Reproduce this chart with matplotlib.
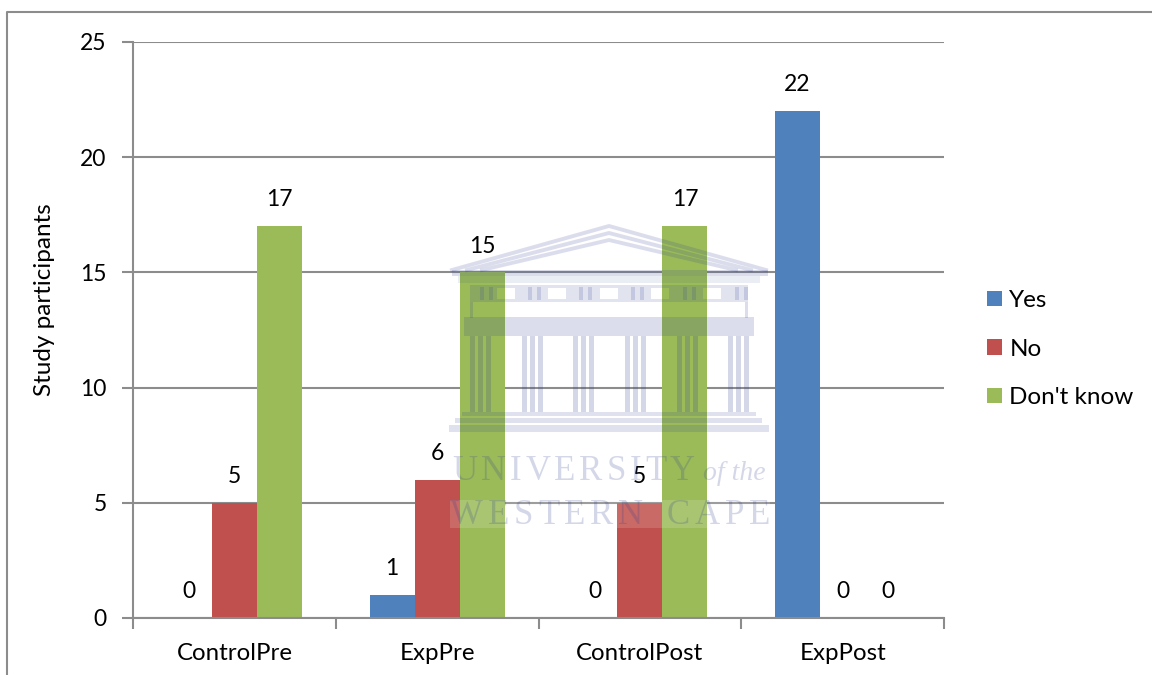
import numpy as np
from matplotlib import pyplot as plt
from matplotlib.patches import Rectangle

categories = ['ControlPre', 'ExpPre', 'ControlPost', 'ExpPost']
yes = [0, 1, 0, 22]
no = [5, 6, 5, 0]
dontKnow = [17, 15, 17, 0]
seriesNames = ['Yes', 'No', "Don't know"]
seriesColors = ['#4f81bd', '#c0504d', '#9bbb59']

plt.rcParams['font.family'] = ['Lato', 'DejaVu Sans']

W, H = 1152, 675
fig = plt.figure(figsize=(W / 100, H / 100), dpi=100)
ax = fig.add_axes([133 / W, 1 - 618 / H, (944 - 133) / W, (618 - 42) / H])

x = np.arange(len(categories))
barWidth = 0.222
for i, values in enumerate([yes, no, dontKnow]):
    offset = (i - 1) * barWidth
    ax.bar(x + offset, values, barWidth, color=seriesColors[i], label=seriesNames[i], zorder=2)
    for xi, v in zip(x, values):
        ax.annotate(str(v), (xi + offset, v), xytext=(0, 19), textcoords='offset points',
                    ha='center', va='center', fontsize=16.5, color='black', zorder=5)

ax.set_xlim(-0.5, 3.5)
ax.set_ylim(0, 25)
ax.set_yticks(range(0, 26, 5))
ax.set_xticks(np.arange(-0.5, 4, 1))
ax.set_xticklabels([])
ax.set_xticks(x, minor=True)
ax.set_xticklabels(categories, minor=True, fontsize=17.3)
ax.tick_params(axis='x', which='major', length=8, width=1.5, color='#8c8c8c', direction='out')
ax.tick_params(axis='x', which='minor', length=0, pad=18)
ax.tick_params(axis='y', length=8, width=1.5, color='#8c8c8c', labelsize=16.5, pad=11)
ax.yaxis.grid(True, color='#8c8c8c', linewidth=1.5, zorder=1)
ax.set_axisbelow(True)
for side in ['top', 'right']:
    ax.spines[side].set_visible(False)
for side in ['left', 'bottom']:
    ax.spines[side].set_color('#8c8c8c')
    ax.spines[side].set_linewidth(1.5)
ax.set_ylabel('Study participants', fontsize=17.5)
ax.yaxis.set_label_coords((55 - 133) / (944 - 133), (618 - 300) / (618 - 42))

handles, labels = ax.get_legend_handles_labels()
fig.legend(handles, labels, loc='center left', bbox_to_anchor=(987 / W, 1 - 349 / H), frameon=False,
           fontsize=17.5, handlelength=0.62, handleheight=0.62, handletextpad=0.3,
           labelspacing=1.13, borderpad=0, borderaxespad=0)

# page overlay in pixel coordinates: frame and watermark
over = fig.add_axes([0, 0, 1, 1], facecolor='none')
over.set_xlim(0, W)
over.set_ylim(H, 0)
over.axis('off')
over.plot([7, 7, W], [H, 12, 12], color='#8c8c8c', linewidth=1.5)

ink = '#2b3a8f'
a = 0.17


def box(x0, y0, x1, y1, alpha=a):
    over.add_patch(Rectangle((x0, y0), x1 - x0, y1 - y0, facecolor=ink, edgecolor='none', alpha=alpha, zorder=6))


def spacedText(x0, x1, y, string, **kw):
    # letters spread evenly between x0 and x1
    renderer = fig.canvas.get_renderer()
    letters = [over.text(0, y, c, va='center', ha='left', zorder=7, **kw) for c in string]
    widths = [t.get_window_extent(renderer).width if c != ' ' else 14 for t, c in zip(letters, string)]
    gap = (x1 - x0 - sum(widths)) / (len(string) - 1)
    pos = x0
    for t, w in zip(letters, widths):
        t.set_x(pos)
        pos += w + gap


# pediment
for inner, top in [(0, 226), (5, 233), (10, 240)]:
    px = [452 + inner * 3, 609, 766 - inner * 3]
    py = [270, top, 270]
    over.plot(px, py, color=ink, alpha=a, linewidth=2.8, zorder=6)
box(452, 270, 768, 276)
box(458, 276, 760, 283, 0.09)
# frieze: strips above and below, solid pieces between the windows
box(470, 285, 748, 288, 0.14)
box(470, 299, 748, 302, 0.14)
windows = [497, 548, 600, 651, 703]
edges = [470] + [e for wx in windows for e in (wx, wx + 18)] + [748]
for left, right in zip(edges[::2], edges[1::2]):
    box(left, 288, right, 299, 0.14)
for tx in [480, 528, 579, 631, 683, 735]:
    box(tx, 287, tx + 4, 300, 0.16)
    box(tx + 9, 287, tx + 13, 300, 0.16)
box(470, 302, 473, 318)
box(745, 302, 748, 318)
# capital band
box(464, 317, 754, 336, 0.17)
# columns
for cx in [470, 522, 573, 625, 677, 728]:
    for k in [0, 8, 16]:
        box(cx + k, 336, cx + k + 5, 412, 0.2)
# steps
box(462, 412, 756, 416, 0.15)
box(455, 418, 762, 423, 0.15)
box(449, 425, 769, 432, 0.15)
# translucent text band
over.add_patch(Rectangle((450, 500), 320, 28, facecolor='white', edgecolor='none', alpha=0.15, zorder=6))
serif = dict(family='Liberation Serif', fontsize=25, color=ink, alpha=0.2)
spacedText(452, 695, 471, 'UNIVERSITY', **serif)
over.text(703, 473, 'of the', family='Liberation Serif', style='italic', fontsize=20, color=ink, alpha=0.2,
          va='center', ha='left', zorder=7)
spacedText(450, 770, 516, 'WESTERN CAPE', **serif)

fig.savefig('out.png', dpi=100)
